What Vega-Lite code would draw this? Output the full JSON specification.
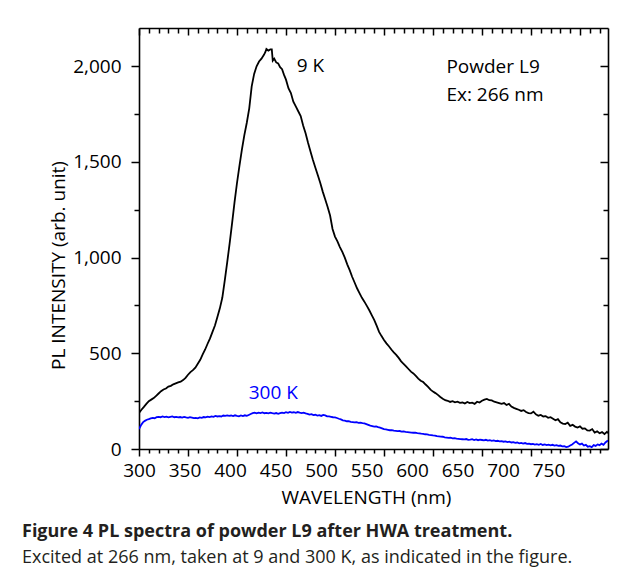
{
"$schema": "https://vega.github.io/schema/vega-lite/v6.json",
"width": 469, "height": 421,
"autosize": {"type": "none"},
"padding": {"left": 139, "top": 28, "right": 17, "bottom": 133},
"background": "white",
"config": {"font": "Open Sans", "view": {"stroke": null},
 "axis": {"domainColor": "black", "domainWidth": 1.6, "tickColor": "black", "tickWidth": 1.5, "labelColor": "black", "titleColor": "black", "labelFont": "Open Sans", "titleFont": "Open Sans", "labelFontSize": 19, "titleFontSize": 19, "titleFontWeight": "normal", "grid": false, "labelFlush": false, "labelOverlap": false}},
"title": {"text": "Figure 4 PL spectra of powder L9 after HWA treatment.", "subtitle": "Excited at 266 nm, taken at 9 and 300 K, as indicated in the figure.", "orient": "bottom", "anchor": "start", "frame": "group", "dx": -117, "offset": 16, "font": "Open Sans", "fontSize": 18, "fontWeight": "bold", "color": "#231f20", "subtitleFont": "Open Sans", "subtitleFontSize": 18, "subtitleColor": "#231f20", "subtitlePadding": 8},
"datasets": {
"spectra": [
{"s":"9 K","nm":300,"pl":188},{"s":"9 K","nm":302.5,"pl":205},{"s":"9 K","nm":305,"pl":220},{"s":"9 K","nm":307.5,"pl":236},{"s":"9 K","nm":310,"pl":250},{"s":"9 K","nm":312.5,"pl":258},{"s":"9 K","nm":315,"pl":266},{"s":"9 K","nm":317.5,"pl":278},{"s":"9 K","nm":320,"pl":290},{"s":"9 K","nm":322.5,"pl":302},{"s":"9 K","nm":325,"pl":311},{"s":"9 K","nm":327.5,"pl":316},{"s":"9 K","nm":330,"pl":326},{"s":"9 K","nm":332.5,"pl":330},{"s":"9 K","nm":335,"pl":338},{"s":"9 K","nm":337.5,"pl":343},{"s":"9 K","nm":340,"pl":348},{"s":"9 K","nm":342.5,"pl":352},{"s":"9 K","nm":345,"pl":360},{"s":"9 K","nm":347.5,"pl":372},{"s":"9 K","nm":350,"pl":388},{"s":"9 K","nm":352.5,"pl":402},{"s":"9 K","nm":355,"pl":412},{"s":"9 K","nm":357.5,"pl":425},{"s":"9 K","nm":360,"pl":445},{"s":"9 K","nm":362.5,"pl":466},{"s":"9 K","nm":365,"pl":495},{"s":"9 K","nm":367.5,"pl":520},{"s":"9 K","nm":370,"pl":550},{"s":"9 K","nm":372.5,"pl":578},{"s":"9 K","nm":375,"pl":612},{"s":"9 K","nm":377.5,"pl":645},{"s":"9 K","nm":380,"pl":690},{"s":"9 K","nm":382.5,"pl":735},{"s":"9 K","nm":385,"pl":790},{"s":"9 K","nm":387.5,"pl":880},{"s":"9 K","nm":390,"pl":975},{"s":"9 K","nm":392.5,"pl":1075},{"s":"9 K","nm":395,"pl":1180},{"s":"9 K","nm":397.5,"pl":1290},{"s":"9 K","nm":400,"pl":1390},{"s":"9 K","nm":402.5,"pl":1480},{"s":"9 K","nm":405,"pl":1565},{"s":"9 K","nm":407.5,"pl":1640},{"s":"9 K","nm":410,"pl":1705},{"s":"9 K","nm":412.5,"pl":1780},{"s":"9 K","nm":415,"pl":1895},{"s":"9 K","nm":417.5,"pl":1960},{"s":"9 K","nm":420,"pl":2000},{"s":"9 K","nm":422.5,"pl":2025},{"s":"9 K","nm":425,"pl":2040},{"s":"9 K","nm":427.5,"pl":2060},{"s":"9 K","nm":429,"pl":2075},{"s":"9 K","nm":430,"pl":2090},{"s":"9 K","nm":432,"pl":2082},{"s":"9 K","nm":434,"pl":2088},{"s":"9 K","nm":435.5,"pl":2088},{"s":"9 K","nm":436.5,"pl":2030},{"s":"9 K","nm":438,"pl":2040},{"s":"9 K","nm":440,"pl":2020},{"s":"9 K","nm":442,"pl":2015},{"s":"9 K","nm":444,"pl":1995},{"s":"9 K","nm":446,"pl":1985},{"s":"9 K","nm":448,"pl":1955},{"s":"9 K","nm":450,"pl":1930},{"s":"9 K","nm":452.5,"pl":1885},{"s":"9 K","nm":455,"pl":1860},{"s":"9 K","nm":457.5,"pl":1815},{"s":"9 K","nm":460,"pl":1790},{"s":"9 K","nm":462.5,"pl":1765},{"s":"9 K","nm":465,"pl":1740},{"s":"9 K","nm":467.5,"pl":1690},{"s":"9 K","nm":470,"pl":1650},{"s":"9 K","nm":472.5,"pl":1600},{"s":"9 K","nm":475,"pl":1555},{"s":"9 K","nm":477.5,"pl":1510},{"s":"9 K","nm":480,"pl":1470},{"s":"9 K","nm":482.5,"pl":1430},{"s":"9 K","nm":485,"pl":1390},{"s":"9 K","nm":487.5,"pl":1345},{"s":"9 K","nm":490,"pl":1305},{"s":"9 K","nm":492.5,"pl":1265},{"s":"9 K","nm":495,"pl":1220},{"s":"9 K","nm":497.5,"pl":1150},{"s":"9 K","nm":500,"pl":1110},{"s":"9 K","nm":502.5,"pl":1085},{"s":"9 K","nm":505,"pl":1055},{"s":"9 K","nm":507.5,"pl":1030},{"s":"9 K","nm":510,"pl":1000},{"s":"9 K","nm":512.5,"pl":965},{"s":"9 K","nm":515,"pl":935},{"s":"9 K","nm":517.5,"pl":900},{"s":"9 K","nm":520,"pl":870},{"s":"9 K","nm":522.5,"pl":840},{"s":"9 K","nm":525,"pl":815},{"s":"9 K","nm":527.5,"pl":790},{"s":"9 K","nm":530,"pl":770},{"s":"9 K","nm":532.5,"pl":748},{"s":"9 K","nm":535,"pl":725},{"s":"9 K","nm":537.5,"pl":700},{"s":"9 K","nm":540,"pl":675},{"s":"9 K","nm":542.5,"pl":645},{"s":"9 K","nm":545,"pl":612},{"s":"9 K","nm":547.5,"pl":590},{"s":"9 K","nm":550,"pl":570},{"s":"9 K","nm":552.5,"pl":552},{"s":"9 K","nm":555,"pl":537},{"s":"9 K","nm":557.5,"pl":520},{"s":"9 K","nm":560,"pl":505},{"s":"9 K","nm":562.5,"pl":492},{"s":"9 K","nm":565,"pl":476},{"s":"9 K","nm":567.5,"pl":458},{"s":"9 K","nm":570,"pl":445},{"s":"9 K","nm":572.5,"pl":432},{"s":"9 K","nm":575,"pl":418},{"s":"9 K","nm":577.5,"pl":404},{"s":"9 K","nm":580,"pl":395},{"s":"9 K","nm":582.5,"pl":382},{"s":"9 K","nm":585,"pl":368},{"s":"9 K","nm":587.5,"pl":357},{"s":"9 K","nm":590,"pl":350},{"s":"9 K","nm":592.5,"pl":337},{"s":"9 K","nm":595,"pl":325},{"s":"9 K","nm":597.5,"pl":310},{"s":"9 K","nm":600,"pl":300},{"s":"9 K","nm":602.5,"pl":292},{"s":"9 K","nm":605,"pl":283},{"s":"9 K","nm":607.5,"pl":272},{"s":"9 K","nm":610,"pl":263},{"s":"9 K","nm":612.5,"pl":255},{"s":"9 K","nm":615,"pl":252},{"s":"9 K","nm":617.5,"pl":246},{"s":"9 K","nm":620,"pl":250},{"s":"9 K","nm":622.5,"pl":244},{"s":"9 K","nm":625,"pl":247},{"s":"9 K","nm":627.5,"pl":241},{"s":"9 K","nm":630,"pl":243},{"s":"9 K","nm":632.5,"pl":238},{"s":"9 K","nm":635,"pl":246},{"s":"9 K","nm":637.5,"pl":240},{"s":"9 K","nm":640,"pl":242},{"s":"9 K","nm":642.5,"pl":236},{"s":"9 K","nm":645,"pl":247},{"s":"9 K","nm":647.5,"pl":243},{"s":"9 K","nm":650,"pl":252},{"s":"9 K","nm":652.5,"pl":258},{"s":"9 K","nm":655,"pl":262},{"s":"9 K","nm":657.5,"pl":255},{"s":"9 K","nm":660,"pl":254},{"s":"9 K","nm":662.5,"pl":247},{"s":"9 K","nm":665,"pl":244},{"s":"9 K","nm":667.5,"pl":240},{"s":"9 K","nm":670,"pl":236},{"s":"9 K","nm":672.5,"pl":240},{"s":"9 K","nm":675,"pl":230},{"s":"9 K","nm":677.5,"pl":236},{"s":"9 K","nm":680,"pl":222},{"s":"9 K","nm":682.5,"pl":215},{"s":"9 K","nm":685,"pl":210},{"s":"9 K","nm":687.5,"pl":205},{"s":"9 K","nm":690,"pl":199},{"s":"9 K","nm":692.5,"pl":203},{"s":"9 K","nm":695,"pl":193},{"s":"9 K","nm":697.5,"pl":188},{"s":"9 K","nm":700,"pl":186},{"s":"9 K","nm":702.5,"pl":195},{"s":"9 K","nm":705,"pl":181},{"s":"9 K","nm":707.5,"pl":174},{"s":"9 K","nm":710,"pl":178},{"s":"9 K","nm":712.5,"pl":170},{"s":"9 K","nm":715,"pl":172},{"s":"9 K","nm":717.5,"pl":163},{"s":"9 K","nm":720,"pl":166},{"s":"9 K","nm":722.5,"pl":158},{"s":"9 K","nm":725,"pl":150},{"s":"9 K","nm":727.5,"pl":156},{"s":"9 K","nm":730,"pl":139},{"s":"9 K","nm":732.5,"pl":133},{"s":"9 K","nm":735,"pl":130},{"s":"9 K","nm":737.5,"pl":138},{"s":"9 K","nm":740,"pl":121},{"s":"9 K","nm":742.5,"pl":126},{"s":"9 K","nm":745,"pl":117},{"s":"9 K","nm":747.5,"pl":112},{"s":"9 K","nm":750,"pl":118},{"s":"9 K","nm":752.5,"pl":106},{"s":"9 K","nm":755,"pl":108},{"s":"9 K","nm":757.5,"pl":97},{"s":"9 K","nm":760,"pl":96},{"s":"9 K","nm":762.5,"pl":104},{"s":"9 K","nm":765,"pl":86},{"s":"9 K","nm":767.5,"pl":92},{"s":"9 K","nm":770,"pl":82},{"s":"9 K","nm":772.5,"pl":88},{"s":"9 K","nm":775,"pl":78},{"s":"9 K","nm":777.5,"pl":90},{"s":"9 K","nm":778.6,"pl":82},
{"s":"300 K","nm":300,"pl":104},{"s":"300 K","nm":302,"pl":124},{"s":"300 K","nm":304,"pl":139},{"s":"300 K","nm":306,"pl":147},{"s":"300 K","nm":308,"pl":153},{"s":"300 K","nm":310,"pl":156},{"s":"300 K","nm":312,"pl":160},{"s":"300 K","nm":314,"pl":163},{"s":"300 K","nm":316,"pl":161},{"s":"300 K","nm":318,"pl":166},{"s":"300 K","nm":320,"pl":168},{"s":"300 K","nm":322,"pl":166},{"s":"300 K","nm":324,"pl":170},{"s":"300 K","nm":326,"pl":167},{"s":"300 K","nm":328,"pl":169},{"s":"300 K","nm":330,"pl":165},{"s":"300 K","nm":332,"pl":168},{"s":"300 K","nm":334,"pl":170},{"s":"300 K","nm":336,"pl":166},{"s":"300 K","nm":338,"pl":168},{"s":"300 K","nm":340,"pl":165},{"s":"300 K","nm":342,"pl":167},{"s":"300 K","nm":344,"pl":164},{"s":"300 K","nm":346,"pl":168},{"s":"300 K","nm":348,"pl":165},{"s":"300 K","nm":350,"pl":163},{"s":"300 K","nm":352,"pl":166},{"s":"300 K","nm":354,"pl":164},{"s":"300 K","nm":356,"pl":161},{"s":"300 K","nm":358,"pl":163},{"s":"300 K","nm":360,"pl":160},{"s":"300 K","nm":362,"pl":165},{"s":"300 K","nm":364,"pl":163},{"s":"300 K","nm":366,"pl":167},{"s":"300 K","nm":368,"pl":165},{"s":"300 K","nm":370,"pl":169},{"s":"300 K","nm":372,"pl":167},{"s":"300 K","nm":374,"pl":170},{"s":"300 K","nm":376,"pl":168},{"s":"300 K","nm":378,"pl":173},{"s":"300 K","nm":380,"pl":170},{"s":"300 K","nm":382,"pl":172},{"s":"300 K","nm":384,"pl":170},{"s":"300 K","nm":386,"pl":175},{"s":"300 K","nm":388,"pl":173},{"s":"300 K","nm":390,"pl":176},{"s":"300 K","nm":392,"pl":173},{"s":"300 K","nm":394,"pl":175},{"s":"300 K","nm":396,"pl":172},{"s":"300 K","nm":398,"pl":176},{"s":"300 K","nm":400,"pl":173},{"s":"300 K","nm":402,"pl":171},{"s":"300 K","nm":404,"pl":175},{"s":"300 K","nm":406,"pl":172},{"s":"300 K","nm":408,"pl":176},{"s":"300 K","nm":410,"pl":173},{"s":"300 K","nm":412,"pl":178},{"s":"300 K","nm":414,"pl":183},{"s":"300 K","nm":416,"pl":187},{"s":"300 K","nm":418,"pl":190},{"s":"300 K","nm":420,"pl":186},{"s":"300 K","nm":422,"pl":190},{"s":"300 K","nm":424,"pl":188},{"s":"300 K","nm":426,"pl":191},{"s":"300 K","nm":428,"pl":187},{"s":"300 K","nm":430,"pl":189},{"s":"300 K","nm":432,"pl":186},{"s":"300 K","nm":434,"pl":190},{"s":"300 K","nm":436,"pl":187},{"s":"300 K","nm":438,"pl":185},{"s":"300 K","nm":440,"pl":188},{"s":"300 K","nm":442,"pl":184},{"s":"300 K","nm":444,"pl":187},{"s":"300 K","nm":446,"pl":190},{"s":"300 K","nm":448,"pl":188},{"s":"300 K","nm":450,"pl":192},{"s":"300 K","nm":452,"pl":189},{"s":"300 K","nm":454,"pl":194},{"s":"300 K","nm":456,"pl":190},{"s":"300 K","nm":458,"pl":192},{"s":"300 K","nm":460,"pl":189},{"s":"300 K","nm":462,"pl":193},{"s":"300 K","nm":464,"pl":190},{"s":"300 K","nm":466,"pl":188},{"s":"300 K","nm":468,"pl":190},{"s":"300 K","nm":470,"pl":186},{"s":"300 K","nm":472,"pl":184},{"s":"300 K","nm":474,"pl":180},{"s":"300 K","nm":476,"pl":182},{"s":"300 K","nm":478,"pl":177},{"s":"300 K","nm":480,"pl":179},{"s":"300 K","nm":482,"pl":175},{"s":"300 K","nm":484,"pl":177},{"s":"300 K","nm":486,"pl":173},{"s":"300 K","nm":488,"pl":178},{"s":"300 K","nm":490,"pl":176},{"s":"300 K","nm":492,"pl":171},{"s":"300 K","nm":494,"pl":170},{"s":"300 K","nm":496,"pl":168},{"s":"300 K","nm":498,"pl":166},{"s":"300 K","nm":500,"pl":165},{"s":"300 K","nm":502,"pl":162},{"s":"300 K","nm":504,"pl":158},{"s":"300 K","nm":506,"pl":155},{"s":"300 K","nm":508,"pl":150},{"s":"300 K","nm":510,"pl":148},{"s":"300 K","nm":512,"pl":145},{"s":"300 K","nm":514,"pl":146},{"s":"300 K","nm":516,"pl":142},{"s":"300 K","nm":518,"pl":141},{"s":"300 K","nm":520,"pl":139},{"s":"300 K","nm":522,"pl":140},{"s":"300 K","nm":524,"pl":137},{"s":"300 K","nm":526,"pl":138},{"s":"300 K","nm":528,"pl":135},{"s":"300 K","nm":530,"pl":134},{"s":"300 K","nm":532,"pl":130},{"s":"300 K","nm":534,"pl":126},{"s":"300 K","nm":536,"pl":122},{"s":"300 K","nm":538,"pl":120},{"s":"300 K","nm":540,"pl":117},{"s":"300 K","nm":542,"pl":118},{"s":"300 K","nm":544,"pl":114},{"s":"300 K","nm":546,"pl":112},{"s":"300 K","nm":548,"pl":108},{"s":"300 K","nm":550,"pl":104},{"s":"300 K","nm":552,"pl":102},{"s":"300 K","nm":554,"pl":100},{"s":"300 K","nm":556,"pl":98},{"s":"300 K","nm":558,"pl":99},{"s":"300 K","nm":560,"pl":96},{"s":"300 K","nm":562,"pl":95},{"s":"300 K","nm":564,"pl":93},{"s":"300 K","nm":566,"pl":94},{"s":"300 K","nm":568,"pl":91},{"s":"300 K","nm":570,"pl":92},{"s":"300 K","nm":572,"pl":89},{"s":"300 K","nm":574,"pl":88},{"s":"300 K","nm":576,"pl":87},{"s":"300 K","nm":578,"pl":86},{"s":"300 K","nm":580,"pl":85},{"s":"300 K","nm":582,"pl":86},{"s":"300 K","nm":584,"pl":83},{"s":"300 K","nm":586,"pl":82},{"s":"300 K","nm":588,"pl":80},{"s":"300 K","nm":590,"pl":79},{"s":"300 K","nm":592,"pl":77},{"s":"300 K","nm":594,"pl":76},{"s":"300 K","nm":596,"pl":74},{"s":"300 K","nm":598,"pl":73},{"s":"300 K","nm":600,"pl":71},{"s":"300 K","nm":602,"pl":70},{"s":"300 K","nm":604,"pl":67},{"s":"300 K","nm":606,"pl":66},{"s":"300 K","nm":608,"pl":65},{"s":"300 K","nm":610,"pl":64},{"s":"300 K","nm":612,"pl":61},{"s":"300 K","nm":614,"pl":60},{"s":"300 K","nm":616,"pl":58},{"s":"300 K","nm":618,"pl":59},{"s":"300 K","nm":620,"pl":56},{"s":"300 K","nm":622,"pl":57},{"s":"300 K","nm":624,"pl":54},{"s":"300 K","nm":626,"pl":53},{"s":"300 K","nm":628,"pl":52},{"s":"300 K","nm":630,"pl":51},{"s":"300 K","nm":632,"pl":50},{"s":"300 K","nm":634,"pl":52},{"s":"300 K","nm":636,"pl":48},{"s":"300 K","nm":638,"pl":49},{"s":"300 K","nm":640,"pl":51},{"s":"300 K","nm":642,"pl":47},{"s":"300 K","nm":644,"pl":50},{"s":"300 K","nm":646,"pl":46},{"s":"300 K","nm":648,"pl":49},{"s":"300 K","nm":650,"pl":47},{"s":"300 K","nm":652,"pl":45},{"s":"300 K","nm":654,"pl":48},{"s":"300 K","nm":656,"pl":44},{"s":"300 K","nm":658,"pl":46},{"s":"300 K","nm":660,"pl":43},{"s":"300 K","nm":662,"pl":45},{"s":"300 K","nm":664,"pl":41},{"s":"300 K","nm":666,"pl":43},{"s":"300 K","nm":668,"pl":40},{"s":"300 K","nm":670,"pl":41},{"s":"300 K","nm":672,"pl":38},{"s":"300 K","nm":674,"pl":40},{"s":"300 K","nm":676,"pl":36},{"s":"300 K","nm":678,"pl":38},{"s":"300 K","nm":680,"pl":34},{"s":"300 K","nm":682,"pl":36},{"s":"300 K","nm":684,"pl":32},{"s":"300 K","nm":686,"pl":34},{"s":"300 K","nm":688,"pl":30},{"s":"300 K","nm":690,"pl":32},{"s":"300 K","nm":692,"pl":28},{"s":"300 K","nm":694,"pl":31},{"s":"300 K","nm":696,"pl":27},{"s":"300 K","nm":698,"pl":28},{"s":"300 K","nm":700,"pl":25},{"s":"300 K","nm":702,"pl":27},{"s":"300 K","nm":704,"pl":23},{"s":"300 K","nm":706,"pl":25},{"s":"300 K","nm":708,"pl":22},{"s":"300 K","nm":710,"pl":26},{"s":"300 K","nm":712,"pl":21},{"s":"300 K","nm":714,"pl":24},{"s":"300 K","nm":716,"pl":20},{"s":"300 K","nm":718,"pl":23},{"s":"300 K","nm":720,"pl":19},{"s":"300 K","nm":722,"pl":22},{"s":"300 K","nm":724,"pl":18},{"s":"300 K","nm":726,"pl":20},{"s":"300 K","nm":728,"pl":16},{"s":"300 K","nm":730,"pl":18},{"s":"300 K","nm":732,"pl":14},{"s":"300 K","nm":734,"pl":15},{"s":"300 K","nm":736,"pl":10},{"s":"300 K","nm":738,"pl":12},{"s":"300 K","nm":740,"pl":18},{"s":"300 K","nm":742,"pl":24},{"s":"300 K","nm":744,"pl":32},{"s":"300 K","nm":746,"pl":40},{"s":"300 K","nm":748,"pl":30},{"s":"300 K","nm":750,"pl":24},{"s":"300 K","nm":752,"pl":28},{"s":"300 K","nm":754,"pl":18},{"s":"300 K","nm":756,"pl":22},{"s":"300 K","nm":758,"pl":12},{"s":"300 K","nm":760,"pl":15},{"s":"300 K","nm":762,"pl":10},{"s":"300 K","nm":764,"pl":20},{"s":"300 K","nm":766,"pl":16},{"s":"300 K","nm":768,"pl":24},{"s":"300 K","nm":770,"pl":20},{"s":"300 K","nm":772,"pl":28},{"s":"300 K","nm":774,"pl":22},{"s":"300 K","nm":776,"pl":34},{"s":"300 K","nm":777.5,"pl":40},{"s":"300 K","nm":778.6,"pl":44}
]
},
"layer": [
{
 "data": {"name": "spectra"},
 "mark": {"type": "line", "strokeWidth": 1.8, "clip": true},
 "encoding": {
  "x": {"field": "nm", "type": "quantitative", "scale": {"domain": [300, 778.6], "nice": false, "zero": false},
   "axis": {"orient": "bottom", "title": "WAVELENGTH (nm)", "values": [300,310,320,330,340,350,360,370,380,390,400,410,420,430,440,450,460,470,480,490,500,510,520,530,540,550,560,570,580,590,600,610,620,630,640,650,660,670,680,690,700,710,720,730,740,750,760,770],
    "tickSize": {"condition": {"test": "datum.value % 50 === 0", "value": 7}, "value": 4},
    "labelExpr": "datum.value % 50 === 0 ? format(datum.value, 'd') : ''",
    "labelOffset": {"expr": "-(datum.value - 300) * 0.07"},
    "labelPadding": 5, "titlePadding": 8, "titleX": 227}},
  "y": {"field": "pl", "type": "quantitative", "scale": {"domain": [0, 2200], "nice": false},
   "axis": {"orient": "left", "title": "PL INTENSITY (arb. unit)", "values": [0,250,500,750,1000,1250,1500,1750,2000],
    "tickSize": {"condition": {"test": "datum.value % 500 === 0", "value": 8}, "value": 5},
    "labelExpr": "datum.value % 500 === 0 ? format(datum.value, ',d') : ''",
    "labelPadding": 10, "titlePadding": 4, "titleY": 237}},
  "color": {"field": "s", "type": "nominal", "scale": {"domain": ["9 K", "300 K"], "range": ["#000000", "#0000ff"]}, "legend": null}
 }
},
{
 "data": {"name": "spectra"},
 "mark": {"type": "line", "strokeOpacity": 0},
 "encoding": {
  "x": {"field": "nm", "type": "quantitative", "axis": {"orient": "top", "title": null, "labels": false, "values": [300,310,320,330,340,350,360,370,380,390,400,410,420,430,440,450,460,470,480,490,500,510,520,530,540,550,560,570,580,590,600,610,620,630,640,650,660,670,680,690,700,710,720,730,740,750,760,770],
    "tickSize": {"condition": {"test": "datum.value % 50 === 0", "value": -7}, "value": -5}}},
  "y": {"field": "pl", "type": "quantitative", "axis": {"orient": "right", "title": null, "labels": false, "values": [0,250,500,750,1000,1250,1500,1750,2000],
    "tickSize": {"condition": {"test": "datum.value % 500 === 0", "value": -8}, "value": -5}}}
 }
},
{
 "data": {"values": [{"label": "9 K"}]},
 "mark": {"type": "text", "align": "left", "baseline": "alphabetic", "fontSize": 19, "font": "Open Sans", "color": "#000000"},
 "encoding": {"x": {"datum": 461, "type": "quantitative", "axis": null}, "y": {"datum": 1970, "type": "quantitative", "axis": null}, "text": {"field": "label"}}
},
{
 "data": {"values": [{"label": "Powder L9"}]},
 "mark": {"type": "text", "align": "left", "baseline": "alphabetic", "fontSize": 19, "font": "Open Sans", "color": "#000000"},
 "encoding": {"x": {"datum": 613.7, "type": "quantitative", "axis": null}, "y": {"datum": 1967, "type": "quantitative", "axis": null}, "text": {"field": "label"}}
},
{
 "data": {"values": [{"label": "Ex: 266 nm"}]},
 "mark": {"type": "text", "align": "left", "baseline": "alphabetic", "fontSize": 19, "font": "Open Sans", "color": "#000000"},
 "encoding": {"x": {"datum": 613.7, "type": "quantitative", "axis": null}, "y": {"datum": 1817, "type": "quantitative", "axis": null}, "text": {"field": "label"}}
},
{
 "data": {"values": [{"label": "300 K"}]},
 "mark": {"type": "text", "align": "left", "baseline": "alphabetic", "fontSize": 19, "font": "Open Sans", "color": "#0000ff"},
 "encoding": {"x": {"datum": 412, "type": "quantitative", "axis": null}, "y": {"datum": 261, "type": "quantitative", "axis": null}, "text": {"field": "label"}}
}
],
"resolve": {"axis": {"x": "independent", "y": "independent"}}
}
